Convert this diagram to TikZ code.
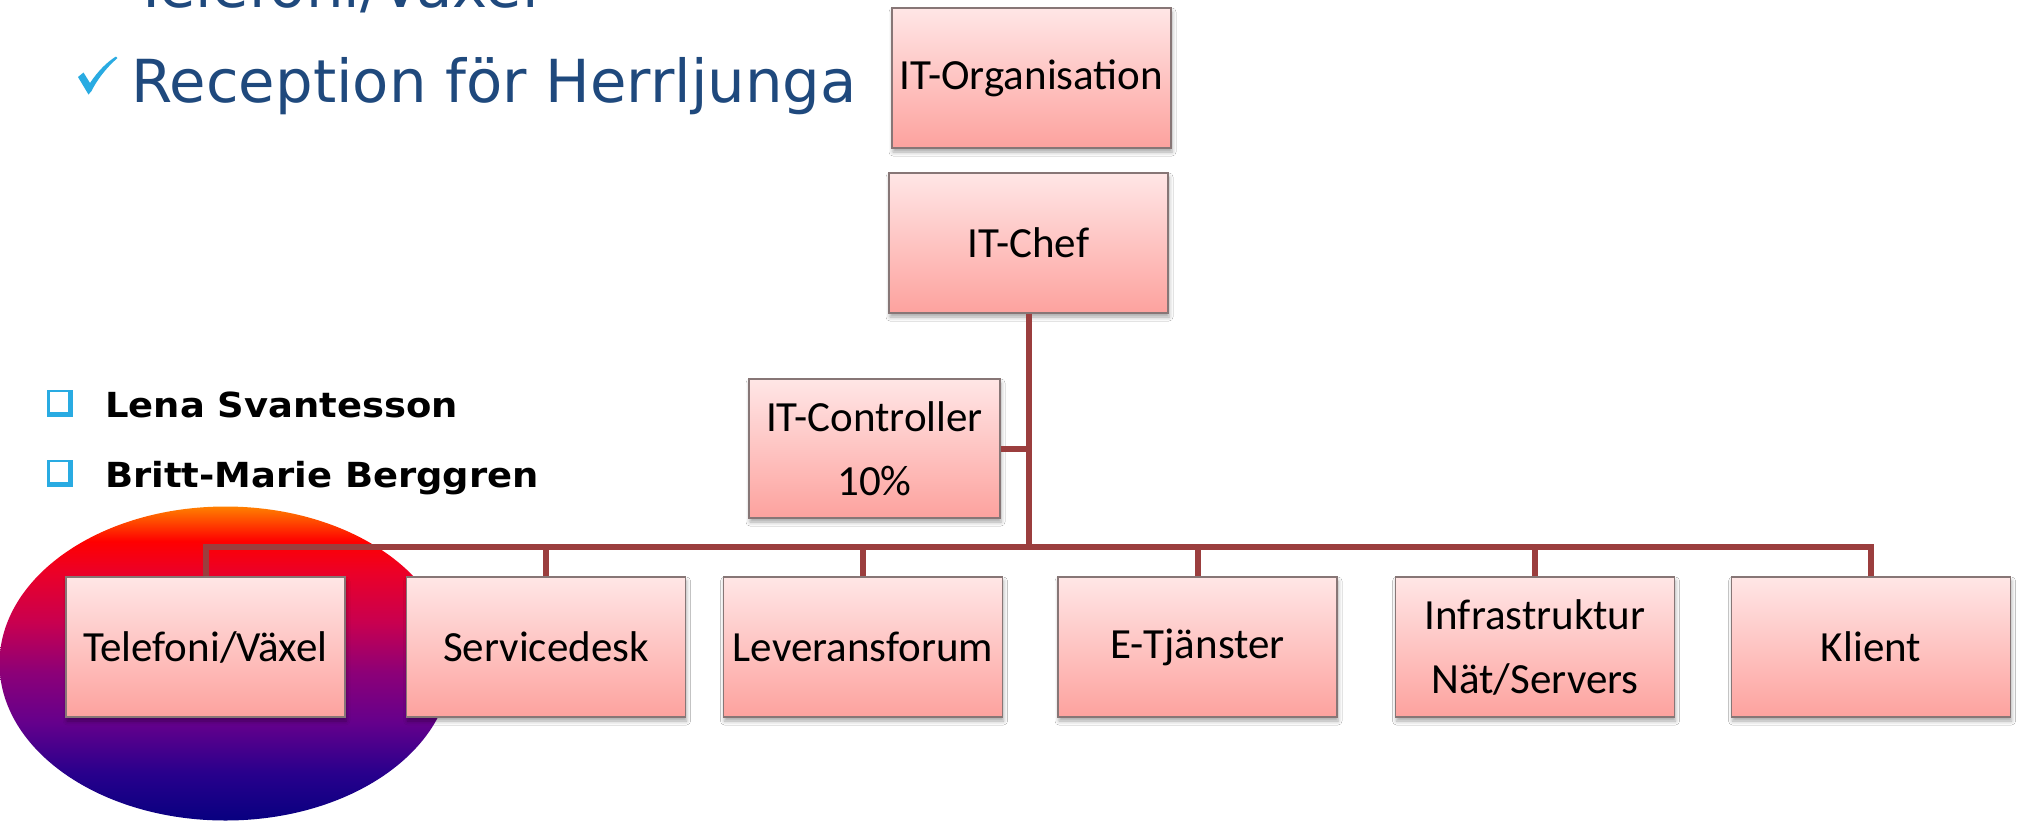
\documentclass[tikz,border=0pt]{standalone}
\usepackage{fontspec}
\setmainfont{Carlito}
\newfontfamily\dejavu{DejaVu Sans}
\usetikzlibrary{shadows.blur}
\definecolor{conn}{RGB}{155,62,62}
\definecolor{titleblue}{RGB}{31,73,125}
\definecolor{bulletblue}{RGB}{41,171,226}
\definecolor{boxtop}{RGB}{255,230,230}
\definecolor{boxbot}{RGB}{253,162,158}
\definecolor{boxline}{RGB}{135,118,118}
\definecolor{ovA}{RGB}{8,0,128}
\definecolor{ovB}{RGB}{40,0,140}
\definecolor{ovC}{RGB}{100,0,140}
\definecolor{ovD}{RGB}{140,0,120}
\definecolor{ovE}{RGB}{200,0,80}
\definecolor{ovF}{RGB}{235,0,40}
\definecolor{ovG}{RGB}{255,0,0}
\definecolor{ovH}{RGB}{255,128,0}
\pgfdeclareverticalshading{ovalshade}{100bp}{color(0bp)=(ovA); color(25bp)=(ovA); color(32.5bp)=(ovB); color(40.5bp)=(ovC); color(48.5bp)=(ovD); color(56.5bp)=(ovE); color(64.5bp)=(ovF); color(69.5bp)=(ovG); color(75bp)=(ovH); color(100bp)=(ovH)}
\begin{document}
\begin{tikzpicture}[x=1pt,y=-1pt,
  orgbox/.style={draw=boxline, line width=1.2pt, top color=boxtop, bottom color=boxbot,
    minimum width=279pt, minimum height=140pt, inner sep=0pt, align=center,
    font=\fontsize{43}{64}\selectfont,
    blur shadow={shadow xshift=1pt, shadow yshift=-4pt, shadow blur radius=4pt, shadow opacity=35}},
  connline/.style={draw=conn, line width=6pt},
  titletext/.style={anchor=base west, inner sep=0pt, text=titleblue, font=\dejavu\fontsize{59.3}{70}\selectfont},
  bullettext/.style={anchor=base west, inner sep=0pt, text=black, font=\dejavu\bfseries\fontsize{34.5}{40}\selectfont}
]
\useasboundingbox (0,0) rectangle (2020,820);
\clip (0,0) rectangle (2020,820);
\fill[white] (0,0) rectangle (2020,820);

% oval highlight
\shade[shading=ovalshade] (225.5,663.5) ellipse [x radius=226, y radius=157];

% title texts
\node[titletext] (t0) at (133,7) {Telefoni/Växel};
\node[titletext] (t1) at (131,102) {Reception för Herrljunga};
\fill[bulletblue] (78,77) -- (83.5,72.5) -- (90,83) .. controls (98,71) and (107,62) .. (116,56.5) -- (117.5,58) .. controls (106,68) and (97,80) .. (91.5,91) -- (88.5,94.5) -- cycle;

% bullets
\fill[bulletblue] (47,390) rectangle (73,417);
\fill[white] (50,392) rectangle (68,411.5);
\fill[bulletblue] (47,460) rectangle (73,487);
\fill[white] (50,462) rectangle (68,481.5);
\node[bullettext] (b1) at (105,417) {\scalebox{1.07}[1]{Lena Svantesson}};
\node[bullettext] (b2) at (105,487) {\scalebox{1.07}[1]{Britt-Marie Berggren}};

% boxes
\node[orgbox] (org) at (1031.5,78) {IT-Organisation};
\node[orgbox] (chef) at (1028.5,243) {IT-Chef};
\node[orgbox, minimum width=251pt, minimum height=139pt] (ctrl) at (874.5,448.5) {IT-Controller\\10\%};
\node[orgbox] (tel) at (205.5,647) {Telefoni/Växel};
\node[orgbox] (srv) at (546,647) {Servicedesk};
\node[orgbox] (lev) at (863,647) {Leveransforum};
\node[orgbox] (etj) at (1197.5,647) {E-Tjänster};
\node[orgbox] (inf) at (1535,647) {Infrastruktur\\Nät/Servers};
\node[orgbox] (kli) at (1871,647) {Klient};

% connectors
\coordinate (bus) at (0,547);
\draw[connline] (chef.south) -- (chef.south |- bus);
\draw[connline] (ctrl.east) -- (ctrl.east -| chef.south);
\draw[connline] (tel.north) -- (tel.north |- bus) -- (kli.north |- bus) -- (kli.north);
\draw[connline] (srv.north) -- (srv.north |- bus);
\draw[connline] (lev.north) -- (lev.north |- bus);
\draw[connline] (etj.north) -- (etj.north |- bus);
\draw[connline] (inf.north) -- (inf.north |- bus);
\end{tikzpicture}
\end{document}
